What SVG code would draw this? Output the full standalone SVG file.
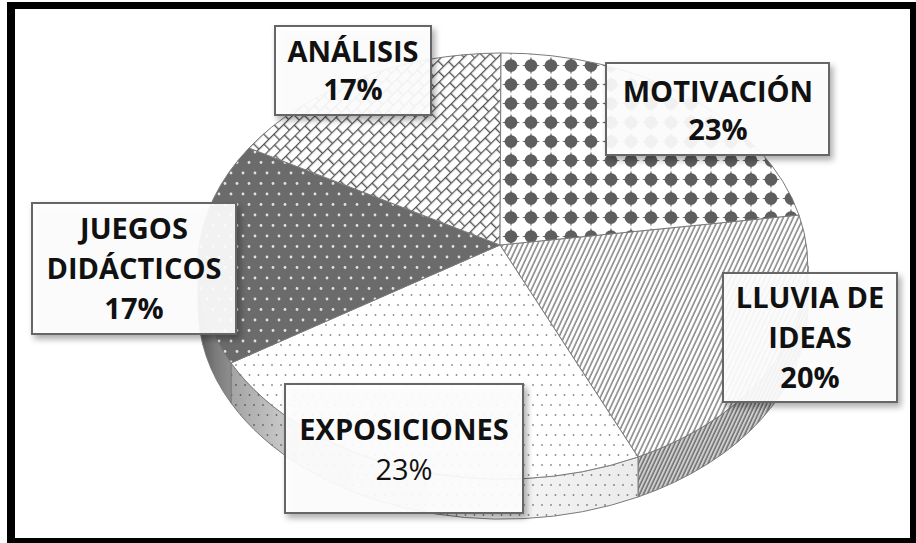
<svg xmlns="http://www.w3.org/2000/svg" width="916" height="543" viewBox="0 0 916 543">
<style>
.edge{stroke:#7a7a7a;stroke-width:1;stroke-linejoin:round}
.box{fill:#ffffff;fill-opacity:0.9;stroke:#666;stroke-width:2;filter:url(#shadow)}
.lbl{font-family:"Open Sans","Liberation Sans",sans-serif;font-size:29px;font-weight:bold;fill:#111;text-anchor:middle}
.reg{font-weight:normal}
</style>
<defs>
<filter id="shadow" x="-20%" y="-20%" width="150%" height="150%">
<feDropShadow dx="3" dy="4" stdDeviation="3" flood-color="#000" flood-opacity="0.35"/>
</filter>
<pattern id="pMot" width="20" height="19" patternUnits="userSpaceOnUse" x="501" y="56">
<rect width="20" height="19" fill="#fff"/>
<circle cx="10" cy="9.5" r="6.3" fill="#5e5e5e"/>
<polygon points="10,0.6 12.4,9.5 10,18.4 7.6,9.5" fill="#5e5e5e"/>
<polygon points="1,9.5 10,7.1 19,9.5 10,11.9" fill="#5e5e5e"/>
</pattern>
<pattern id="pAna" width="14" height="16" patternUnits="userSpaceOnUse" patternTransform="rotate(-45)">
<rect width="14" height="16" fill="#fff"/>
<path d="M0,0.6H14M0,8.6H14M0.6,0.6V8.6M7.6,8.6V16.6" stroke="#555" stroke-width="1.4" fill="none"/>
</pattern>
<pattern id="pJue" width="12" height="21" patternUnits="userSpaceOnUse">
<rect width="12" height="21" fill="#6b6b6b"/>
<circle cx="3" cy="5" r="1.4" fill="#e2e2e2"/>
<circle cx="9" cy="15.5" r="1.4" fill="#e2e2e2"/>
</pattern>
<pattern id="pExp" width="9" height="20" patternUnits="userSpaceOnUse">
<rect width="9" height="20" fill="#fff"/>
<circle cx="2" cy="5" r="0.9" fill="#8a8a8a"/>
<circle cx="6.5" cy="15" r="0.9" fill="#8a8a8a"/>
</pattern>
<pattern id="pLlu" width="4.5" height="10" patternUnits="userSpaceOnUse" patternTransform="rotate(25)">
<rect width="4.5" height="10" fill="#fff"/>
<line x1="1" y1="0" x2="1" y2="10" stroke="#8a8a8a" stroke-width="1.6"/>
</pattern>
<pattern id="pLluSide" width="3.5" height="10" patternUnits="userSpaceOnUse" patternTransform="rotate(25)">
<rect width="3.5" height="10" fill="#cfcfcf"/>
<line x1="1" y1="0" x2="1" y2="10" stroke="#666" stroke-width="1.4"/>
</pattern>
<linearGradient id="gSideL" x1="198" y1="0" x2="640" y2="0" gradientUnits="userSpaceOnUse">
<stop offset="0" stop-color="#000" stop-opacity="0.45"/>
<stop offset="0.25" stop-color="#000" stop-opacity="0.15"/>
<stop offset="0.6" stop-color="#000" stop-opacity="0.03"/>
<stop offset="1" stop-color="#000" stop-opacity="0.08"/>
</linearGradient>
<linearGradient id="gJueSide" x1="198" y1="0" x2="232" y2="0" gradientUnits="userSpaceOnUse">
<stop offset="0" stop-color="#555"/>
<stop offset="0.5" stop-color="#7a7a7a"/>
<stop offset="1" stop-color="#909090"/>
</linearGradient>
</defs>

<rect x="0" y="0" width="916" height="543" fill="#fff"/>

<g id="slice-lluvia-de-ideas">
<path class="edge" d="M808,266 A305,213 0 0,1 638,457 L638,497 A305,213 0 0,0 808,306 Z" fill="url(#pLluSide)"/>
<path class="edge" d="M500,245 L799,215 A305,213 0 0,1 638,457 Z" fill="url(#pLlu)"/>
</g>
<g id="slice-exposiciones">
<path d="M638,457 A305,213 0 0,1 231,363 L231,403 A305,213 0 0,0 638,497 Z" fill="url(#pExp)"/>
<path class="edge" d="M638,457 A305,213 0 0,1 231,363 L231,403 A305,213 0 0,0 638,497 Z" fill="url(#gSideL)"/>
<path class="edge" d="M500,245 L638,457 A305,213 0 0,1 231,363 Z" fill="url(#pExp)"/>
</g>
<g id="slice-juegos-didacticos">
<path class="edge" d="M231,363 A305,213 0 0,1 198,266 L198,306 A305,213 0 0,0 231,403 Z" fill="url(#gJueSide)"/>
<path class="edge" d="M500,245 L231,363 A305,213 0 0,1 249,148 Z" fill="url(#pJue)"/>
</g>
<g id="slice-analisis">
<path class="edge" d="M500,245 L249,148 A305,213 0 0,1 501,53 Z" fill="url(#pAna)"/>
</g>
<g id="slice-motivacion">
<path class="edge" d="M500,245 L501,53 A305,213 0 0,1 799,215 Z" fill="url(#pMot)"/>
</g>

<g id="label-analisis">
<rect class="box" x="275" y="26" width="156" height="89"/>
<text class="lbl" x="353" y="62">ANÁLISIS</text>
<text class="lbl" x="353" y="100">17%</text>
</g>
<g id="label-motivacion">
<rect class="box" x="606" y="63" width="223" height="92"/>
<text class="lbl" x="718" y="102">MOTIVACIÓN</text>
<text class="lbl" x="718" y="140">23%</text>
</g>
<g id="label-lluvia-de-ideas">
<rect class="box" x="723" y="273" width="174" height="129"/>
<text class="lbl" x="810" y="308">LLUVIA DE</text>
<text class="lbl" x="810" y="348">IDEAS</text>
<text class="lbl" x="810" y="388">20%</text>
</g>
<g id="label-juegos-didacticos">
<rect class="box" x="32" y="203" width="204" height="131"/>
<text class="lbl" x="134" y="239">JUEGOS</text>
<text class="lbl" x="134" y="279">DIDÁCTICOS</text>
<text class="lbl" x="134" y="319">17%</text>
</g>
<g id="label-exposiciones">
<rect class="box" x="285" y="384" width="238" height="129"/>
<text class="lbl" x="404" y="440">EXPOSICIONES</text>
<text class="lbl reg" x="404" y="480">23%</text>
</g>

<path id="frame" fill="#000" fill-rule="evenodd" d="M7,2 H916 V543 H7 Z M15,9 V538 H910 V9 Z"/>
</svg>
